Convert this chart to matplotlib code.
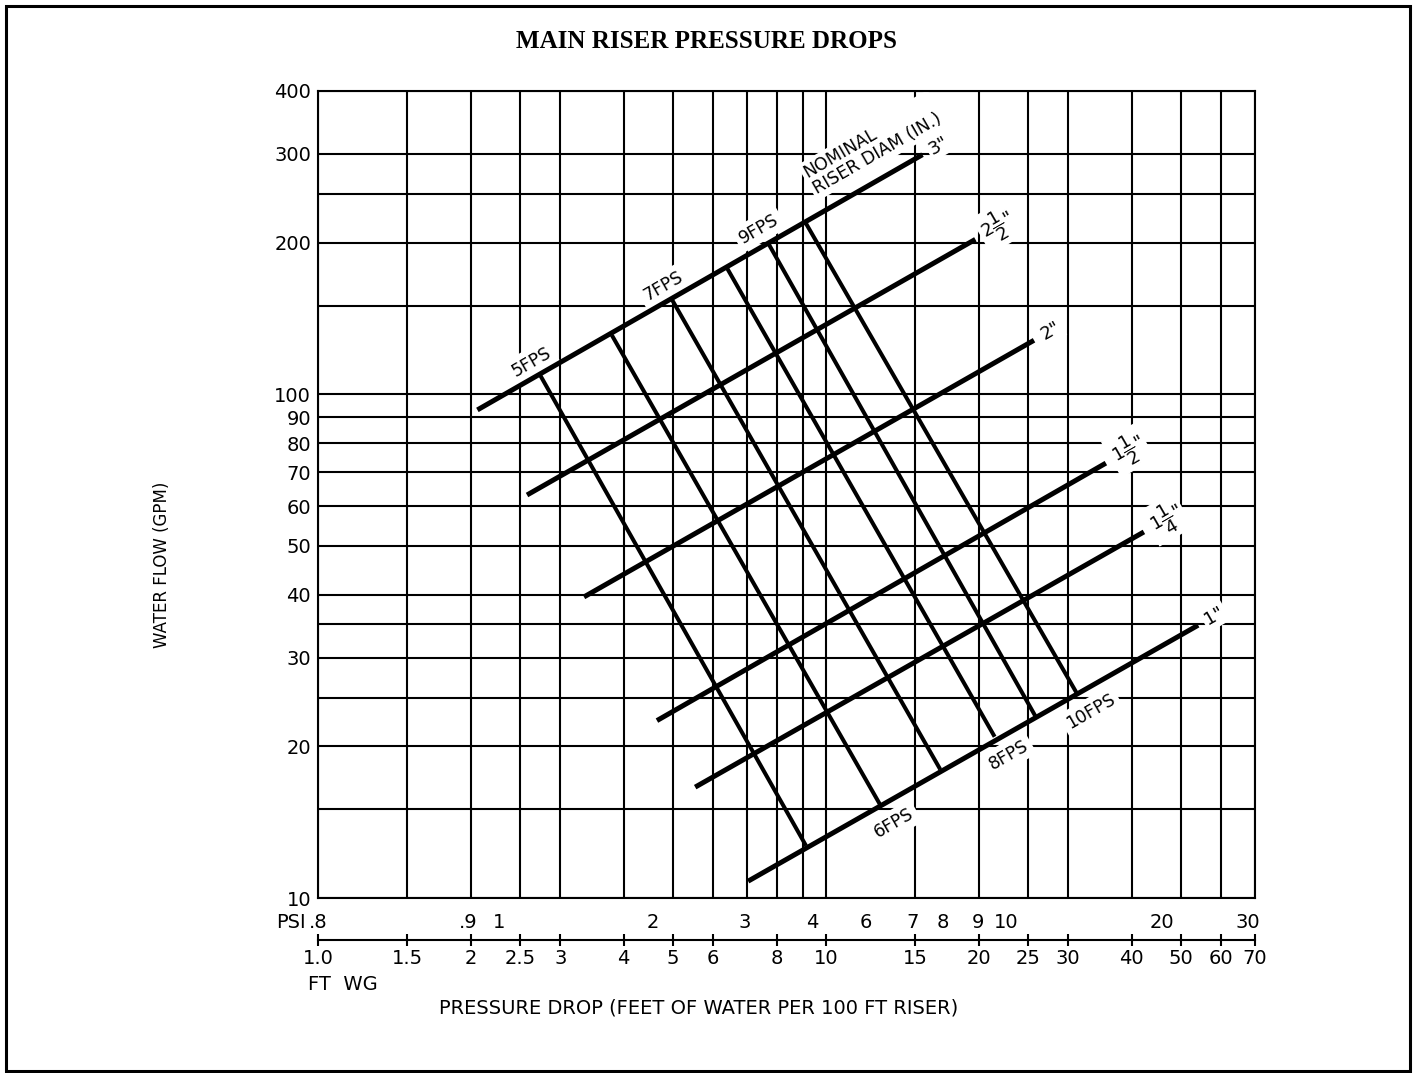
import matplotlib
matplotlib.use("Agg")
import matplotlib.pyplot as plt
from matplotlib.ticker import FixedLocator, FixedFormatter, NullLocator, NullFormatter

# chart paper grid
x_grid = [1.0, 1.5, 2, 2.5, 3, 4, 5, 6, 7, 8, 9, 10, 15, 20, 25, 30, 40, 50, 60, 70]
y_grid = [10, 15, 20, 25, 30, 35, 40, 50, 60, 70, 80, 90, 100, 150, 200, 250, 300, 400]
y_labels = ['10', '', '20', '', '30', '', '40', '50', '60', '70', '80', '90', '100',
            '', '200', '', '300', '400']

# bottom scale (ft WG) and the PSI labels printed above it
ft_ticks = [1.0, 1.5, 2, 2.5, 3, 4, 5, 6, 8, 10, 15, 20, 25, 30, 40, 50, 60, 70]
ft_labels = ['1.0', '1.5', '2', '2.5', '3', '4', '5', '6', '8', '10', '15', '20',
             '25', '30', '40', '50', '60', '70']
psi_pos = [1.0, 1.98, 2.27, 4.57, 6.93, 9.39, 12.0, 14.8, 17.0, 19.9, 22.7, 45.9, 67.8]
psi_labels = ['.8', '.9', '1', '2', '3', '4', '6', '7', '8', '9', '10', '20', '30']

# nominal riser diameter lines (ft WG, GPM)
diam_labels = ['3"', r'$2\dfrac{1}{2}$"', '2"', r'$1\dfrac{1}{2}$"', r'$1\dfrac{1}{4}$"', '1"']
diam_x0 = [2.06, 2.58, 3.34, 4.65, 5.53, 7.03]
diam_y0 = [93.1, 63.1, 39.6, 22.5, 16.6, 10.8]
diam_x1 = [15.5, 19.7, 25.7, 35.6, 42.3, 54.1]
diam_y1 = [299, 203, 128, 73.0, 53.3, 34.8]

# velocity lines, from the 3" line down to the 1" line
fps = [5, 6, 7, 8, 9, 10]
fps_x0 = [2.74, 3.79, 4.98, 6.39, 7.69, 9.10]
fps_y0 = [109, 131, 154, 178, 200, 220]
fps_x1 = [9.14, 12.8, 16.8, 21.5, 25.9, 31.2]
fps_y1 = [12.7, 15.3, 18.0, 20.9, 22.9, 25.5]

W, H = 1413, 1073
plt.rcParams['font.family'] = ['DejaVu Sans']
plt.rcParams['mathtext.fontset'] = 'dejavusans'
fig = plt.figure(figsize=(W / 100, H / 100), dpi=100)

L, R, T, B = 318, 1255, 91, 898
ax = fig.add_axes([L / W, 1 - B / H, (R - L) / W, (B - T) / H])
ax.set_xscale('log')
ax.set_yscale('log')
ax.set_xlim(1.0, 70)
ax.set_ylim(10, 400)
ax.xaxis.set_major_locator(FixedLocator(x_grid))
ax.xaxis.set_major_formatter(NullFormatter())
ax.xaxis.set_minor_locator(NullLocator())
ax.yaxis.set_major_locator(FixedLocator(y_grid))
ax.yaxis.set_major_formatter(FixedFormatter(y_labels))
ax.yaxis.set_minor_locator(NullLocator())
ax.tick_params(length=0, labelsize=14, pad=5)
ax.set_axisbelow(True)
ax.grid(True, color='black', lw=1.5)
for s in ax.spines.values():
    s.set_linewidth(1.5)

for i in range(len(diam_labels)):
    ax.plot([diam_x0[i], diam_x1[i]], [diam_y0[i], diam_y1[i]], color='black',
            lw=3.6, solid_capstyle='butt', zorder=3)
    ax.annotate(diam_labels[i], xy=(diam_x1[i], diam_y1[i]), xytext=(5.6, 3.2),
                textcoords='offset points', rotation=30, rotation_mode='anchor',
                ha='left', va='center', fontsize=13, zorder=2,
                bbox=dict(fc='white', ec='none', pad=2))

for i in range(len(fps)):
    ax.plot([fps_x0[i], fps_x1[i]], [fps_y0[i], fps_y1[i]], color='black',
            lw=2.9, solid_capstyle='butt', zorder=3)
    if fps[i] % 2:
        xy, off = (fps_x0[i], fps_y0[i]), (-6.5, 9.8)
    else:
        xy, off = (fps_x1[i], fps_y1[i]), (10, -13)
    ax.annotate('%dFPS' % fps[i], xy=xy, xytext=off, textcoords='offset points',
                rotation=30, ha='center', va='center', fontsize=12.5, zorder=2,
                bbox=dict(fc='white', ec='none', pad=3))

ax.annotate('NOMINAL\nRISER DIAM (IN.)', xy=(diam_x1[0], diam_y1[0]), xytext=(-36, 6.5),
            textcoords='offset points', rotation=30, ha='center', va='center',
            multialignment='left', fontsize=12.5, linespacing=1.0, zorder=2,
            bbox=dict(fc='white', ec='none', pad=2))

# ft WG scale below the chart
ax_ft = fig.add_axes([L / W, 1 - 940 / H, (R - L) / W, (940 - B) / H])
ax_ft.set_xscale('log')
ax_ft.set_xlim(1.0, 70)
ax_ft.set_ylim(0, 1)
ax_ft.patch.set_visible(False)
for k in ['top', 'left', 'right']:
    ax_ft.spines[k].set_visible(False)
ax_ft.spines['bottom'].set_linewidth(1.5)
ax_ft.set_yticks([])
ax_ft.xaxis.set_major_locator(FixedLocator(ft_ticks))
ax_ft.xaxis.set_major_formatter(FixedFormatter(ft_labels))
ax_ft.xaxis.set_minor_locator(NullLocator())
ax_ft.tick_params(axis='x', direction='inout', length=9, width=1.5, labelsize=14, pad=2)
tr = ax_ft.get_xaxis_transform()
for p, lab in zip(psi_pos, psi_labels):
    ax_ft.text(p, 18 / 42, lab, transform=tr, ha='center', va='center', fontsize=14)
ax_ft.annotate('PSI', xy=(1.0, 18 / 42), xycoords=tr, xytext=(-9, 0),
               textcoords='offset points', ha='right', va='center', fontsize=14)

fig.text(308 / W, 1 - 985 / H, 'FT  WG', ha='left', va='center', fontsize=14)
fig.text(699 / W, 1 - 1008 / H, 'PRESSURE DROP (FEET OF WATER PER 100 FT RISER)',
         ha='center', va='center', fontsize=14)
fig.text(162 / W, 1 - 565 / H, 'WATER FLOW (GPM)', rotation=90,
         ha='center', va='center', fontsize=12)
fig.text(707 / W, 1 - 42 / H, 'MAIN RISER PRESSURE DROPS', ha='center', va='center',
         fontsize=18, fontweight='bold', family='Liberation Serif')

fig.add_artist(plt.Rectangle((5.5 / W, 2 / H), (1409.5 - 5.5) / W, (1067.5 - 2) / H,
                             transform=fig.transFigure, fill=False, lw=2.2,
                             ec='black'))

fig.savefig('out.png', dpi=100)
